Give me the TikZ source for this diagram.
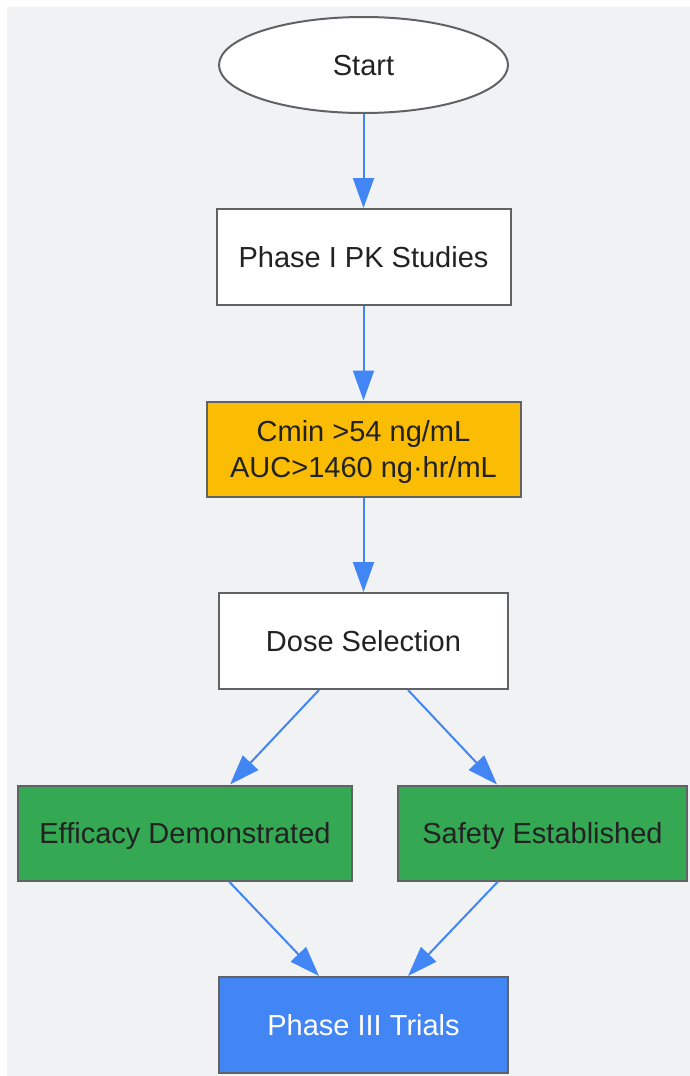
\documentclass[tikz,border=0pt]{standalone}
\usepackage{fontspec}
\setmainfont{Liberation Sans}
\usetikzlibrary{shapes.geometric,positioning,arrows.meta}
\definecolor{bgGray}{HTML}{F1F2F4}
\definecolor{lineGray}{HTML}{616266}
\definecolor{txtGray}{HTML}{222222}
\definecolor{flowBlue}{HTML}{4285F4}
\definecolor{pkYellow}{HTML}{FBBC04}
\definecolor{okGreen}{HTML}{34A853}
\begin{document}
\begin{tikzpicture}[x=1pt, y=-1pt, node distance=192pt, on grid,
  box/.style={draw=lineGray, line width=2pt, fill=white, text=txtGray,
    minimum height=96pt, inner sep=0pt, align=center,
    text height=21pt, text depth=0pt,
    font=\fontsize{29}{36.5}\selectfont},
  flow/.style={draw=flowBlue, line width=2pt,
    -{Triangle[length=30pt,width=21pt,fill=flowBlue]}}]
\useasboundingbox (0,0) rectangle (690,1076);
\fill [bgGray] (7,7) rectangle (690,1076);
\node [box, ellipse, minimum width=289pt] (start) at (363.5,65) {Start};
\node [box, minimum width=294pt] (phaseI) [below = of start] {Phase I PK Studies};
\node [box, minimum width=314pt, minimum height=95pt, fill=pkYellow, text height=57.5pt] (target) [below = of phaseI] {Cmin >54 ng/mL\\AUC>1460 ng·hr/mL};
\node [box, minimum width=289pt] (dose) [below = of target] {Dose Selection};
\node [box, minimum width=334pt, minimum height=95pt, fill=okGreen] (efficacy) [below left = 192pt and 178.5pt of dose] {Efficacy Demonstrated};
\node [box, minimum width=289pt, minimum height=95pt, fill=okGreen] (safety) [below right = 192pt and 179pt of dose] {Safety Established};
\node [box, minimum width=289pt, fill=flowBlue, text=white] (phaseIII) [below = 384pt of dose] {Phase III Trials};
\path
(start) edge [flow] (phaseI)
(phaseI) edge [flow] (target)
(target) edge [flow] (dose)
([xshift=-44.5pt]dose.south) edge [flow] ([xshift=45pt]efficacy.north)
([xshift=44.5pt]dose.south) edge [flow] ([xshift=-45.5pt]safety.north)
([xshift=44pt]efficacy.south) edge [flow] ([xshift=-44.5pt]phaseIII.north)
([xshift=-44.5pt]safety.south) edge [flow] ([xshift=44.5pt]phaseIII.north);
\end{tikzpicture}
\end{document}
